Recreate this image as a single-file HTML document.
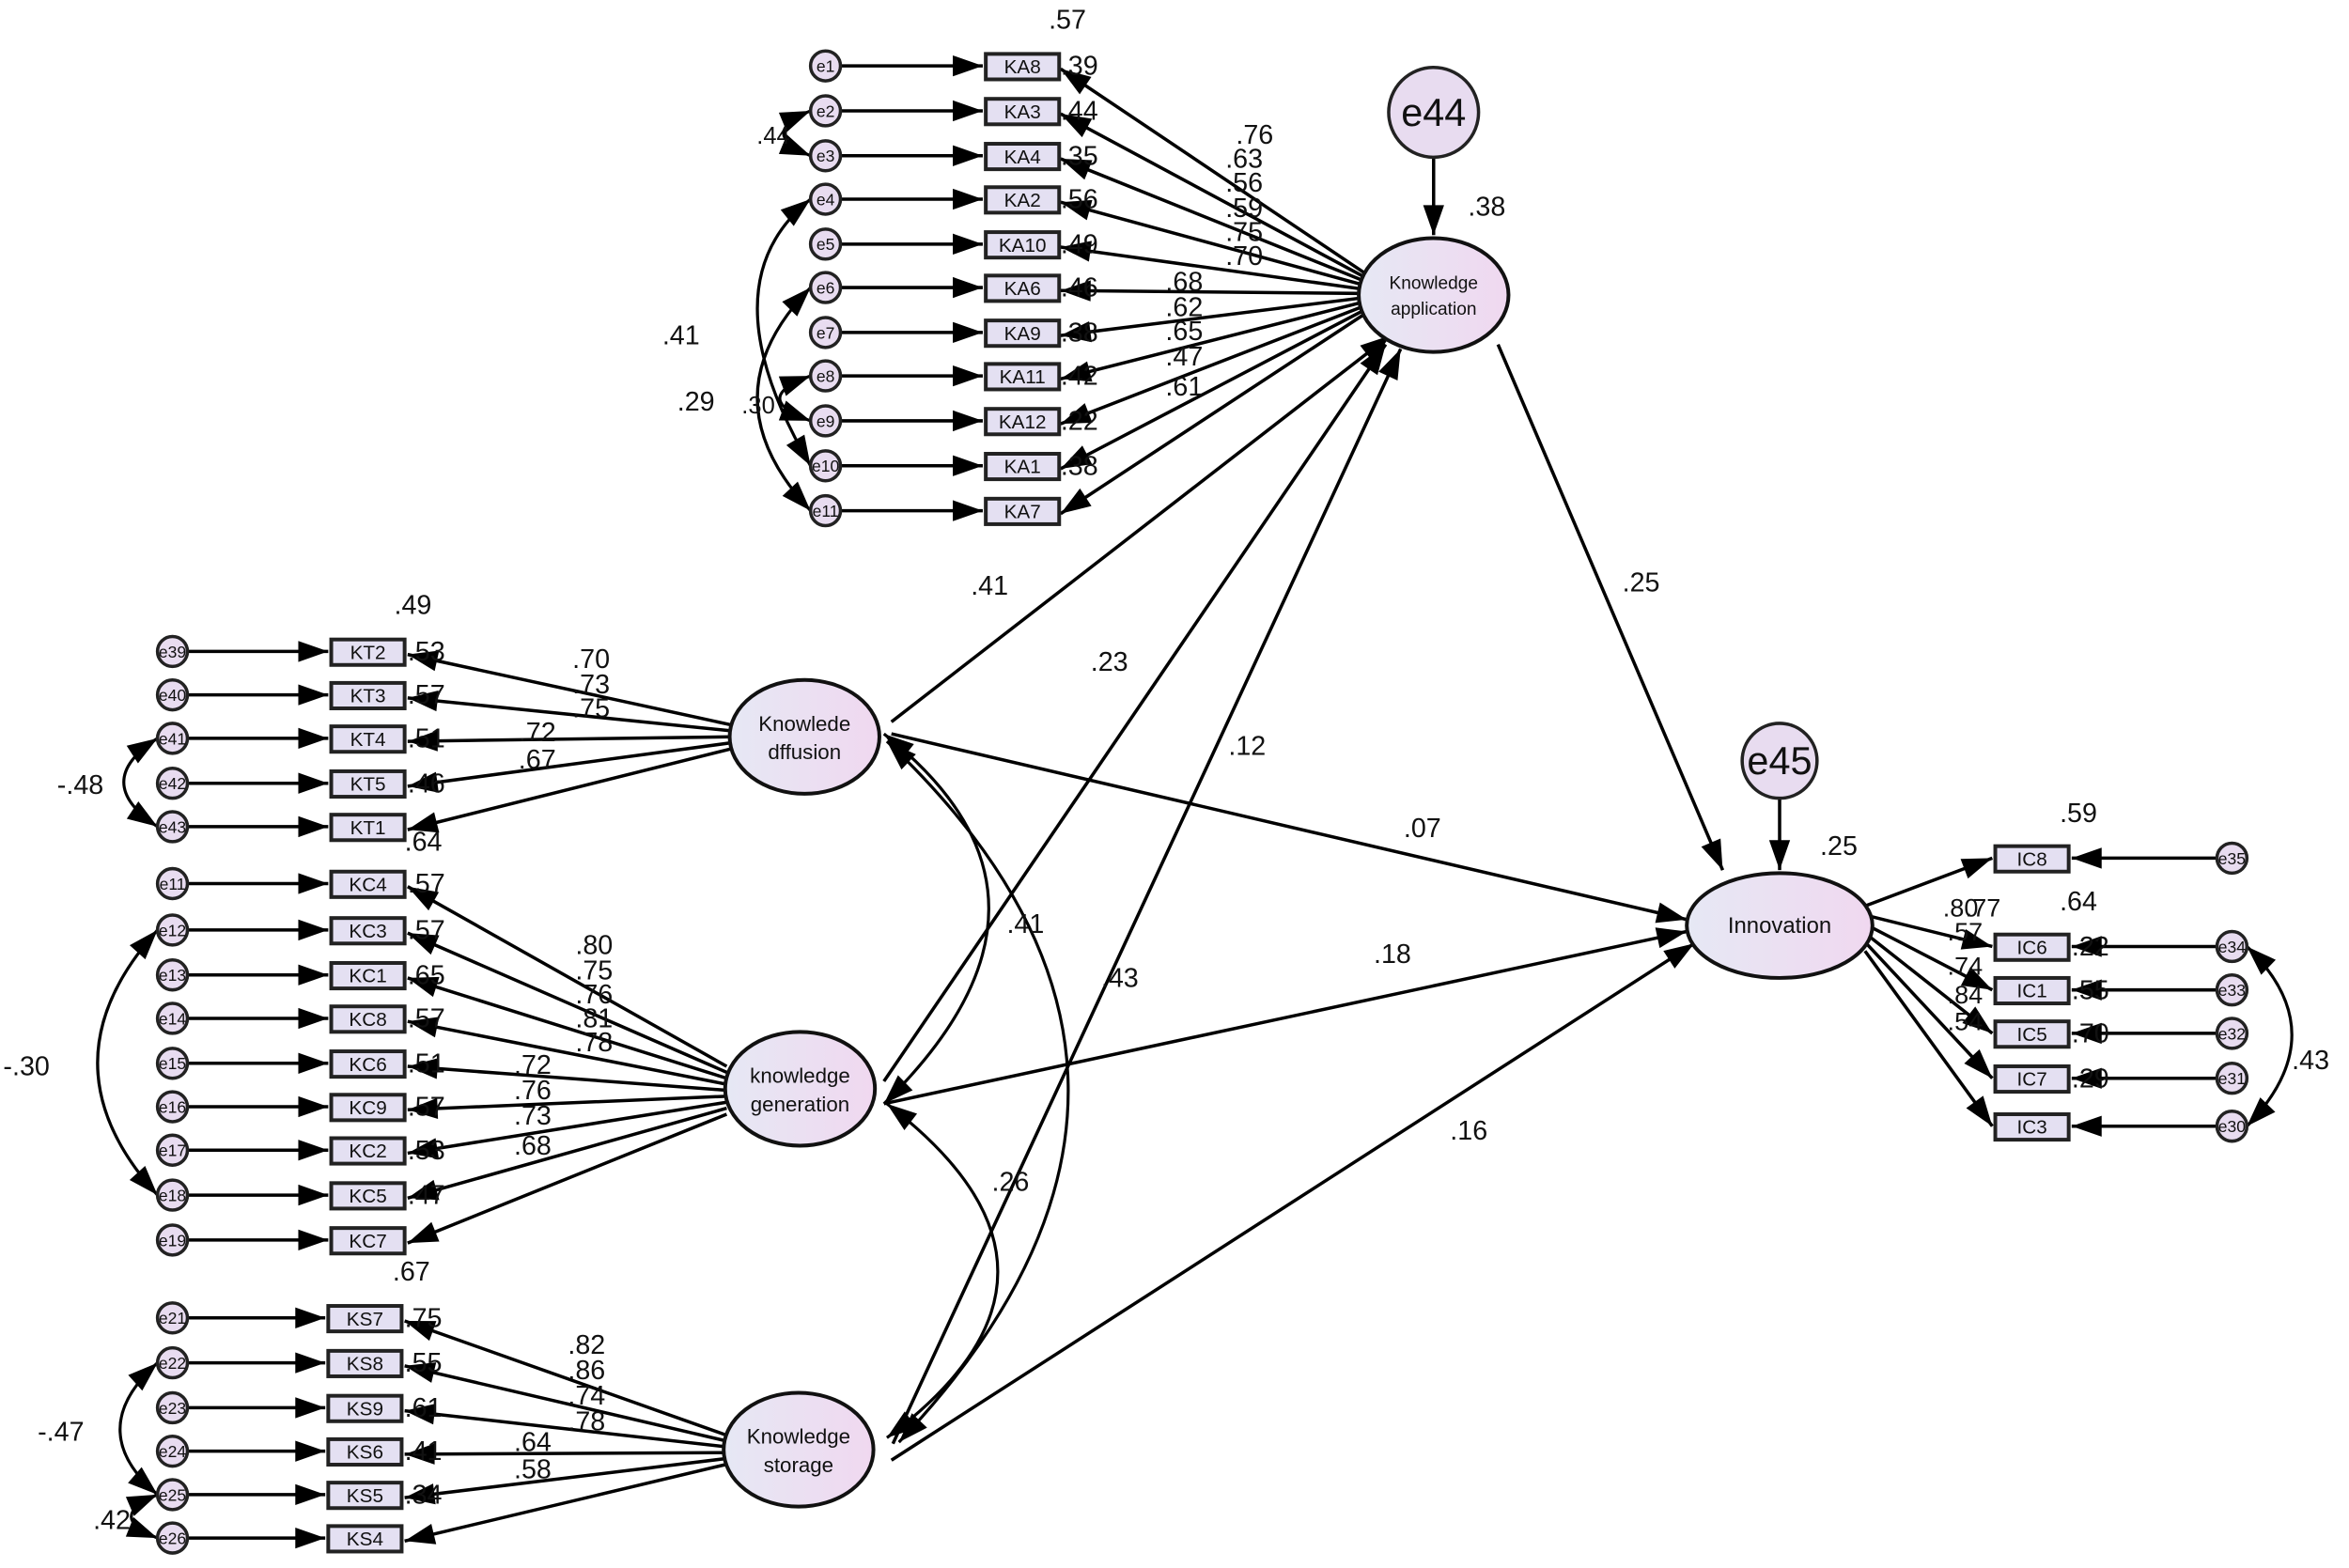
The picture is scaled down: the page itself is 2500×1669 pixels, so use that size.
<!DOCTYPE html>
<html><head><meta charset="utf-8">
<style>
html,body{margin:0;padding:0;background:#fff;}
svg{display:block;}
text{font-family:"Liberation Sans",Arial,sans-serif;fill:#111;}
</style></head>
<body>
<svg id="s" width="2500" height="1669" viewBox="0 0 1568 1047" xmlns="http://www.w3.org/2000/svg">
<defs>
<linearGradient id="g" x1="0" x2="1" y1="0" y2="0"><stop offset="0" stop-color="#e6e8f4"/><stop offset="1" stop-color="#f0d8f0"/></linearGradient>
</defs>
<g id="L"></g><g id="N"></g><g id="T"></g>
</svg>
<script>
var NS="http://www.w3.org/2000/svg";
var Lg=document.getElementById("L"),Ng=document.getElementById("N"),Tg=document.getElementById("T");
function el(p,t,a,txt){var e=document.createElementNS(NS,t);for(var k in a)e.setAttribute(k,a[k]);if(txt!==undefined)e.textContent=txt;p.appendChild(e);return e;}
function head(x,y,ang){var l=20,w=7;var c=Math.cos(ang),s=Math.sin(ang);
 var bx=x-l*c,by=y-l*s;el(Lg,"polygon",{points:x+","+y+" "+(bx-w*s)+","+(by+w*c)+" "+(bx+w*s)+","+(by-w*c),fill:"#000"});}
function arrow(x1,y1,x2,y2){el(Lg,"line",{x1:x1,y1:y1,x2:x2,y2:y2,stroke:"#000","stroke-width":2.2});head(x2,y2,Math.atan2(y2-y1,x2-x1));}
function curve(x1,y1,cx,cy,x2,y2){el(Lg,"path",{d:"M"+x1+","+y1+" Q"+cx+","+cy+" "+x2+","+y2,fill:"none",stroke:"#000","stroke-width":2});
 head(x1,y1,Math.atan2(y1-cy,x1-cx));head(x2,y2,Math.atan2(y2-cy,x2-cx));}
function txt(x,y,s,fs){el(Tg,"text",{x:x,y:y,"font-size":fs||18},s);}
function box(x,y,label){el(Ng,"rect",{x:x,y:y-8,width:49,height:17,fill:"#e4e0f2",stroke:"#222","stroke-width":2.5});
 el(Ng,"text",{x:x+24.5,y:y+5,"font-size":13,"text-anchor":"middle"},label);}
function err(x,y,label,r){r=r||10;el(Ng,"circle",{cx:x,cy:y,r:r,fill:"#e8dcf0",stroke:"#222","stroke-width":2.2});
 el(Ng,"text",{x:x,y:y+(r>15?9:4),"font-size":r>15?26:11,"text-anchor":"middle"},label);}
function lat(x,y,rx,ry,l1,l2,fs){el(Ng,"ellipse",{cx:x,cy:y,rx:rx,ry:ry,fill:"url(#g)",stroke:"#111","stroke-width":2.5});
 if(l2){el(Ng,"text",{x:x,y:y-4,"font-size":fs,"text-anchor":"middle"},l1);el(Ng,"text",{x:x,y:y+fs+1,"font-size":fs,"text-anchor":"middle"},l2);}
 else el(Ng,"text",{x:x,y:y+5,"font-size":fs,"text-anchor":"middle"},l1);}

// Knowledge application block
var KA=[["KA8",44],["KA3",74],["KA4",104],["KA2",133],["KA10",163],["KA6",192],["KA9",222],["KA11",251],["KA12",281],["KA1",311],["KA7",341]];
var kaR2=[".39",".44",".35",".56",".49",".46",".38",".42",".22",".38",""];
KA.forEach(function(k,i){box(658,k[1],k[0]);err(551,k[1],"e"+(i+1));arrow(561,k[1],656,k[1]);
 arrow(915,185+i*2.2,708,k[1]+2);if(kaR2[i])txt(708,k[1]+6,kaR2[i]);});
txt(700,19,".57");
[[825,96,".76"],[818,112,".63"],[818,128,".56"],[818,145,".59"],[818,161,".75"],[818,177,".70"],[778,194,".68"],[778,211,".62"],[778,227,".65"],[778,244,".47"],[778,264,".61"]].forEach(function(a){txt(a[0],a[1],a[2]);});
curve(541,74,505,89,541,104);txt(505,96,".44",16);
curve(541,133,470,190,541,311);txt(442,230,".41");
curve(541,192,470,265,541,341);txt(452,274,".29");
curve(541,251,500,266,541,281);txt(495,276,".30",16);

// diffusion
var KT=[["KT2",435],["KT3",464],["KT4",493],["KT5",523],["KT1",552]];
var ktR2=[".53",".57",".51",".46",""];
KT.forEach(function(k,i){box(221,k[1],k[0]);err(115,k[1],"e"+(39+i));arrow(125,k[1],219,k[1]);
 arrow(488,484+i*4,272,k[1]+2);if(ktR2[i])txt(272,k[1]+6,ktR2[i]);});
txt(263,410,".49");txt(270,568,".64");
[[382,446,".70"],[382,463,".73"],[382,479,".75"],[346,495,".72"],[346,513,".67"]].forEach(function(a){txt(a[0],a[1],a[2]);});
curve(105,493,60,522,105,552);txt(38,530,"-.48");

// generation
var KC=[["KC4",590],["KC3",621],["KC1",651],["KC8",680],["KC6",710],["KC9",739],["KC2",768],["KC5",798],["KC7",828]];
var kcR2=[".57",".57",".65",".57",".51",".57",".53",".47",""];
KC.forEach(function(k,i){box(221,k[1],k[0]);err(115,k[1],"e"+(11+i));arrow(125,k[1],219,k[1]);
 arrow(485,712+i*4,272,k[1]+2);if(kcR2[i])txt(272,k[1]+6,kcR2[i]);});
[[384,637,".80"],[384,654,".75"],[384,670,".76"],[384,686,".81"],[384,702,".78"],[343,717,".72"],[343,734,".76"],[343,751,".73"],[343,771,".68"]].forEach(function(a){txt(a[0],a[1],a[2]);});
curve(105,621,25,710,105,798);txt(2,718,"-.30");

// storage
var KS=[["KS7",880],["KS8",910],["KS9",940],["KS6",969],["KS5",998],["KS4",1027]];
var ksR2=[".75",".55",".61",".41",".34",""];
KS.forEach(function(k,i){box(219,k[1],k[0]);err(115,k[1],"e"+(21+i));arrow(125,k[1],217,k[1]);
 arrow(484,958+i*4,270,k[1]+2);if(ksR2[i])txt(270,k[1]+6,ksR2[i]);});
txt(262,855,".67");
[[379,904,".82"],[379,921,".86"],[379,938,".74"],[379,955,".78"],[343,969,".64"],[343,987,".58"]].forEach(function(a){txt(a[0],a[1],a[2]);});
curve(105,910,55,955,105,998);txt(25,962,"-.47");
curve(105,998,70,1013,105,1027);txt(62,1021,".42");

// Innovation side
var IC=[["IC8",573],["IC6",632],["IC1",661],["IC5",690],["IC7",720],["IC3",752]];
var icR2=["",".22",".55",".70",".29",""];
IC.forEach(function(k,i){box(1332,k[1],k[0]);err(1490,k[1],"e"+(35-i));arrow(1480,k[1],1383,k[1]);
 arrow(1245,605+i*6,1330,k[1]);if(icR2[i])txt(1383,k[1]+6,icR2[i]);});
txt(1375,549,".59");txt(1375,608,".64");
[[1297,612,".80"],[1312,612,".77"],[1300,628,".57"],[1300,651,".74"],[1300,670,".84"],[1300,688,".54"]].forEach(function(a){txt(a[0],a[1],a[2],17);});
curve(1500,632,1560,690,1500,752);txt(1530,714,".43");

// latent variables
lat(957,197,50,38,"Knowledge","application",12);
lat(537,492,50,38,"Knowlede","dffusion",14);
lat(534,727,50,38,"knowledge","generation",14);
lat(533,968,50,38,"Knowledge","storage",14);
lat(1188,618,62,35,"Innovation",null,15);
err(957,75,"e44",30);arrow(957,105,957,157);txt(980,144,".38");
err(1188,508,"e45",25);arrow(1188,533,1188,581);txt(1215,571,".25");

// structural paths
arrow(595,482,928,224);txt(648,397,".41");
arrow(590,722,925,230);txt(728,448,".23");
arrow(596,964,935,233);txt(820,504,".12");
arrow(1000,230,1150,581);txt(1083,395,".25");
arrow(595,490,1126,614);txt(937,559,".07");
arrow(590,737,1126,622);txt(917,643,".18");
arrow(595,975,1131,630);txt(968,761,".16");

// covariances among exogenous
curve(590,490,730,600,590,737);txt(672,623,".41");
curve(592,495,830,720,600,963);txt(735,659,".43");
curve(592,737,740,850,592,960);txt(662,795,".26");
</script>
</body></html>
